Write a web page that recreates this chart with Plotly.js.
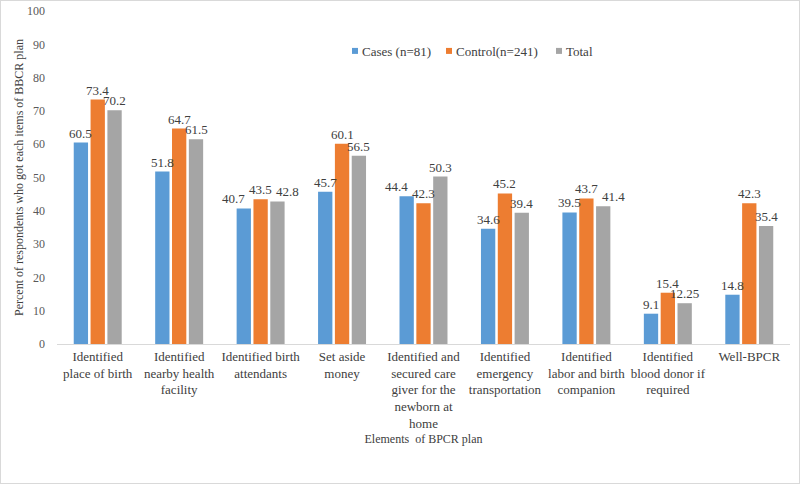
<!DOCTYPE html>
<html>
<head>
<meta charset="utf-8">
<script src="https://cdn.plot.ly/plotly-3.0.1.min.js"></script>
<style>
  body { margin: 0; background: #fff; }
  #chart { width: 798px; height: 482px; border: 1px solid #d9d9d9; }
</style>
</head>
<body>
<div id="chart"></div>
<script>
const categories = [
  "Identified<br>place of birth",
  "Identified<br>nearby health<br>facility",
  "Identified birth<br>attendants",
  "Set aside<br>money",
  "Identified and<br>secured care<br>giver for the<br>newborn at<br>home",
  "Identified<br>emergency<br>transportation",
  "Identified<br>labor and birth<br>companion",
  "Identified<br>blood donor if<br>required",
  "Well-BPCR"
];
const cases = [60.5, 51.8, 40.7, 45.7, 44.4, 34.6, 39.5, 9.1, 14.8];
const control = [73.4, 64.7, 43.5, 60.1, 42.3, 45.2, 43.7, 15.4, 42.3];
const total = [70.2, 61.5, 42.8, 56.5, 50.3, 39.4, 41.4, 12.25, 35.4];

const font = "'Liberation Serif', 'Times New Roman', serif";
const bargap = 0.38;
const slot = (1 - bargap) / 3;

function bar(name, values, color, legendId) {
  return {
    type: "bar",
    name: name,
    x: categories,
    y: values,
    marker: { color: color },
    legend: legendId,
    hoverinfo: "none"
  };
}

const traces = [
  bar("Cases (n=81)", cases, "#5B9BD5", "legend"),
  bar("Control(n=241)", control, "#ED7D31", "legend2"),
  bar("Total", total, "#A5A5A5", "legend3")
];

// value labels; like Excel, push a label sideways when it would hit the middle one
const annotations = [];
[[cases, -1], [control, 0], [total, 1]].forEach(([vals, side]) => {
  vals.forEach((v, i) => {
    const clash = side !== 0 && Math.abs(v - control[i]) < 3;
    annotations.push({
      x: i + side * slot,
      y: v,
      xref: "x", yref: "y",
      text: String(v),
      showarrow: false,
      yanchor: "bottom",
      xshift: clash ? side * 10 : 0,
      font: { family: font, size: 13, color: "#404040" }
    });
  });
});

// one legend per series so each entry can sit where Excel put it
function legendAt(x) {
  return {
    orientation: "h",
    x: x, y: 0.88,
    xanchor: "left", yanchor: "middle",
    bgcolor: "rgba(0,0,0,0)",
    font: { family: font, size: 13, color: "#404040" },
    itemwidth: 30
  };
}

const layout = {
  width: 798,
  height: 482,
  margin: { l: 56, r: 9, t: 10, b: 139 },
  paper_bgcolor: "#fff",
  plot_bgcolor: "#fff",
  font: { family: font, size: 13, color: "#404040" },
  barmode: "group",
  bargap: bargap,
  bargroupgap: 0.15,
  showlegend: true,
  legend: legendAt(0.3615),
  legend2: legendAt(0.4898),
  legend3: legendAt(0.6398),
  annotations: annotations,
  xaxis: {
    tickangle: 0,
    showline: true,
    linecolor: "#d9d9d9",
    ticks: "",
    tickfont: { family: font, size: 13, color: "#404040" },
    title: { text: "Elements  of BPCR plan", font: { family: font, size: 12, color: "#404040" }, standoff: 4 }
  },
  yaxis: {
    range: [0, 100],
    dtick: 10,
    showgrid: false,
    zeroline: false,
    showline: false,
    ticks: "",
    ticklabelstandoff: 11,
    tickfont: { family: font, size: 12, color: "#595959" },
    title: { text: "Percent of respondents who got each items of BBCR plan", font: { family: font, size: 12, color: "#404040" }, standoff: 0 }
  }
};

Plotly.newPlot("chart", traces, layout, { displayModeBar: false, staticPlot: true }).then(() => {
  // small square legend keys right next to their text
  document.querySelectorAll(".legendpoints path").forEach(p => {
    p.setAttribute("transform", "translate(33,0) scale(0.5)");
  });
});
</script>
</body>
</html>
